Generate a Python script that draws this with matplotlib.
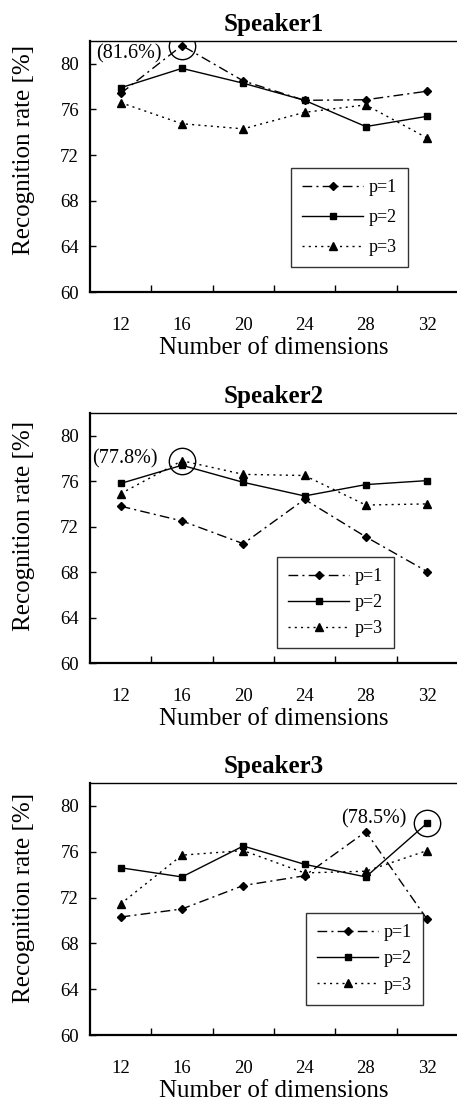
import numpy as np
import matplotlib
matplotlib.use("Agg")
import matplotlib.pyplot as plt

plt.rcParams['font.family'] = ['Liberation Serif', 'DejaVu Serif']

# ---------------- data ----------------
dims = ["12", "16", "20", "24", "28", "32"]
speakers = ["Speaker1", "Speaker2", "Speaker3"]

s1_p1 = [77.4, 81.6, 78.5, 76.8, 76.85, 77.6]
s1_p2 = [77.9, 79.6, 78.3, 76.8, 74.5, 75.4]
s1_p3 = [76.6, 74.75, 74.3, 75.75, 76.4, 73.5]

s2_p1 = [73.8, 72.5, 70.5, 74.4, 71.1, 68.05]
s2_p2 = [75.8, 77.4, 75.9, 74.7, 75.7, 76.05]
s2_p3 = [74.9, 77.8, 76.6, 76.5, 73.9, 74.0]

s3_p1 = [70.3, 71.0, 73.05, 73.9, 77.75, 70.1]
s3_p2 = [74.6, 73.8, 76.5, 74.9, 73.8, 78.5]
s3_p3 = [71.45, 75.7, 76.1, 74.15, 74.3, 76.1]

# best result per speaker: (category index, value, label)
best = [(1, 81.6, "(81.6%)"), (1, 77.8, "(77.8%)"), (5, 78.5, "(78.5%)")]

series = [(s1_p1, s1_p2, s1_p3), (s2_p1, s2_p2, s2_p3), (s3_p1, s3_p2, s3_p3)]

# ---------------- layout ----------------
W, H = 457, 1104
fig = plt.figure(figsize=(W / 100, H / 100), dpi=100)

panel_px = [(41, 292), (413, 663), (783, 1035)]   # top, bottom in pixels
ax_left, ax_right = 90, 457
legend_pos = [(0.548, 0.494), (0.51, 0.4235), (0.589, 0.4835)]
legend_spacing = [0.72, 0.5, 0.52]
ylabel_y = [0.566, 0.548, 0.544]
ann_offset = [(-20, -8), (-24, 2), (-21, 4)]

x = np.arange(len(dims))
styles = [
    dict(linestyle=(0, (7, 3, 1.5, 3)), marker="D", markersize=4.5, label="p=1"),
    dict(linestyle="-", marker="s", markersize=5, label="p=2"),
    dict(linestyle=(0, (1.5, 3)), marker="^", markersize=6, label="p=3"),
]

for k, (top, bot) in enumerate(panel_px):
    ax = fig.add_axes([ax_left / W, 1 - bot / H,
                       (ax_right - ax_left) / W, (bot - top) / H])

    for vals, st in zip(series[k], styles):
        ax.plot(x, vals, color="black", linewidth=1.0, **st)

    # highlight best point
    bi, bv, blabel = best[k]
    ax.plot([bi], [bv], marker="o", markersize=19, markerfacecolor="none",
            markeredgecolor="black", markeredgewidth=1.0, linestyle="none")
    ax.annotate(blabel, xy=(bi, bv), xytext=ann_offset[k],
                textcoords="offset pixels", ha="right", va="center", fontsize=14.5)

    ax.set_xlim(-0.5, (ax_right - ax_left) / 61.3 - 0.5)
    ax.set_ylim(60, 82)
    ax.set_yticks(np.arange(60, 81, 4))
    ax.set_xticks(x)
    ax.set_xticklabels(dims)
    ax.set_xticks(x[:-1] + 0.5, minor=True)
    ax.tick_params(axis="x", which="major", length=0, pad=18, labelsize=13.5)
    ax.tick_params(axis="x", which="minor", direction="in", length=5, width=1)
    ax.tick_params(axis="y", direction="in", length=4, width=1, pad=8, labelsize=13.5)

    ax.spines["right"].set_visible(False)
    ax.spines["left"].set_linewidth(1.6)
    ax.spines["bottom"].set_linewidth(1.6)
    ax.spines["top"].set_linewidth(1.0)

    ax.set_title(speakers[k], fontsize=18, fontweight="bold", pad=7)
    ax.set_xlabel("Number of dimensions", fontsize=18, labelpad=2)
    ax.set_ylabel("Recognition rate [%]", fontsize=18)
    ax.yaxis.set_label_coords(-0.15, ylabel_y[k])

    leg = ax.legend(loc="upper left", bbox_to_anchor=legend_pos[k], fontsize=13,
                    frameon=True, fancybox=False, edgecolor="black",
                    handlelength=3.4, labelspacing=legend_spacing[k],
                    borderpad=0.6, handletextpad=0.3, borderaxespad=0)
    leg.get_frame().set_linewidth(1.0)

fig.savefig("out.png", dpi=100)
